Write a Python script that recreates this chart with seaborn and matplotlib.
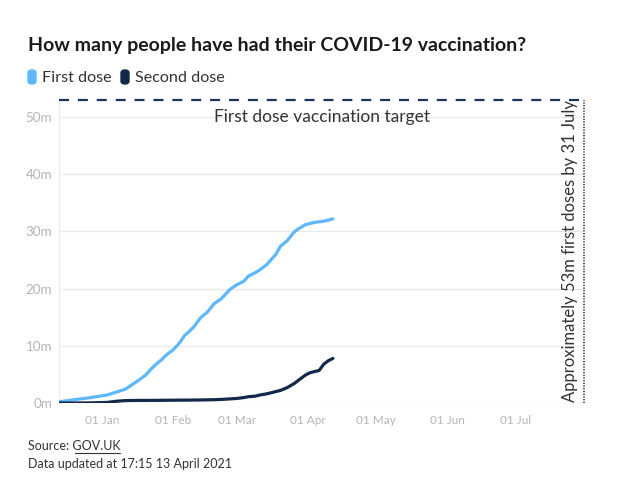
import pandas as pd
import matplotlib.pyplot as plt
import matplotlib.dates as mdates
import seaborn as sns
from matplotlib.patches import FancyBboxPatch

# data (millions of people)
dates = ["2020-12-13", "2020-12-20", "2020-12-27", "2021-01-03", "2021-01-07", "2021-01-11",
         "2021-01-14", "2021-01-17", "2021-01-20", "2021-01-22", "2021-01-24", "2021-01-27",
         "2021-01-29", "2021-02-01", "2021-02-04", "2021-02-06", "2021-02-08", "2021-02-10",
         "2021-02-13", "2021-02-16", "2021-02-19", "2021-02-22", "2021-02-26", "2021-03-01",
         "2021-03-04", "2021-03-06", "2021-03-09", "2021-03-11", "2021-03-14", "2021-03-16",
         "2021-03-18", "2021-03-20", "2021-03-23", "2021-03-26", "2021-03-28", "2021-03-31",
         "2021-04-02", "2021-04-04", "2021-04-06", "2021-04-08", "2021-04-10", "2021-04-12"]
first_dose = [0.2, 0.6, 0.95, 1.4, 1.9, 2.4,
              3.2, 4.0, 4.9, 5.8, 6.6, 7.6,
              8.4, 9.3, 10.6, 11.8, 12.5, 13.3,
              14.9, 15.9, 17.4, 18.2, 19.9, 20.7,
              21.3, 22.2, 22.8, 23.3, 24.2, 25.1,
              26.0, 27.4, 28.4, 29.9, 30.5, 31.2,
              31.4, 31.6, 31.7, 31.8, 32.0, 32.2]
second_dose = [0.0, 0.0, 0.02, 0.1, 0.3, 0.42,
               0.44, 0.45, 0.45, 0.46, 0.46, 0.47,
               0.48, 0.49, 0.5, 0.5, 0.51, 0.52,
               0.53, 0.55, 0.58, 0.62, 0.72, 0.8,
               0.95, 1.1, 1.2, 1.4, 1.6, 1.8,
               2.0, 2.2, 2.7, 3.4, 4.0, 4.9,
               5.3, 5.5, 5.7, 6.8, 7.4, 7.8]
series_names = ["First dose", "Second dose"]
series_colors = ["#5fb8fb", "#13294b"]
target = 53
x_start, x_end = "2020-12-13", "2021-07-31"
y_ticks = [0, 10, 20, 30, 40, 50]
month_ticks = ["2021-01-01", "2021-02-01", "2021-03-01", "2021-04-01",
               "2021-05-01", "2021-06-01", "2021-07-01"]

df = pd.DataFrame({
    "date": pd.to_datetime(dates * 2),
    "people": first_dose + second_dose,
    "dose": [series_names[0]] * len(dates) + [series_names[1]] * len(dates),
})

sns.set_style("white")
plt.rcParams["font.family"] = ["Lato", "DejaVu Sans"]

fig = plt.figure(figsize=(6.28, 5), dpi=100)
ax = fig.add_axes([59 / 628, 97 / 500, (584 - 59) / 628, 303 / 500])

sns.lineplot(data=df, x="date", y="people", hue="dose", palette=series_colors,
             linewidth=2.3, legend=False, ax=ax, zorder=3)

ax.set_xlim(pd.Timestamp(x_start), pd.Timestamp(x_end))
ax.set_ylim(0, target)
ax.set_yticks(y_ticks)
ax.set_yticklabels([f"{v}m" for v in y_ticks])
ax.set_xticks(pd.to_datetime(month_ticks))
ax.xaxis.set_major_formatter(mdates.DateFormatter("%d %b"))
ax.set_xlabel("")
ax.set_ylabel("")
ax.grid(axis="y", color="#e8e8e8", linewidth=0.9)
for s in ["top", "right", "bottom"]:
    ax.spines[s].set_visible(False)
ax.spines["left"].set_color("#e8e8e8")
ax.tick_params(axis="y", length=0, labelsize=9.6, labelcolor="#b5b5b5", pad=5)
ax.tick_params(axis="x", length=6, color="#e8e8e8", labelsize=8.5, labelcolor="#b5b5b5", pad=3)

# target line and annotations
ax.axhline(target, color="#1d3458", linestyle=(0, (4.5, 4)), linewidth=1.6, zorder=4, clip_on=False)
ax.axvline(pd.Timestamp(x_end), color="#444444", linestyle=(0, (0.6, 0.8)), linewidth=1.4, clip_on=False)
ax.text(pd.Timestamp("2021-04-07"), 50, "First dose vaccination target", ha="center", va="center",
        fontsize=12.5, color="#333333")
ax.text(pd.Timestamp("2021-07-25"), 26.5, "Approximately 53m first doses by 31 July", rotation=90,
        ha="center", va="center", fontsize=12, color="#333333")

fig.text(28 / 628, 1 - 45 / 500, "How many people have had their COVID-19 vaccination?",
         fontsize=14.0, fontweight="bold", color="#1a1a1a", va="center")

# legend
legend_x = [28, 121]
for lx, name, col in zip(legend_x, series_names, series_colors):
    fig.patches.append(FancyBboxPatch((lx / 628, 1 - 84 / 500), 8 / 628, 14 / 500,
                                      boxstyle="round,pad=0,rounding_size=0.006",
                                      transform=fig.transFigure, color=col))
    fig.text((lx + 14) / 628, 1 - 78 / 500, name, fontsize=11.6, color="#333333", va="center")

fig.text(28 / 628, 1 - 446 / 500, "Source: GOV.UK", fontsize=9, color="#333333", va="center")
fig.text(28 / 628, 1 - 464 / 500, "Data updated at 17:15 13 April 2021", fontsize=9,
         color="#333333", va="center")
fig.add_artist(plt.Line2D([75 / 628, 120 / 628], [1 - 453 / 500] * 2, color="#333333", linewidth=0.8))

fig.savefig("out.png", dpi=100)
